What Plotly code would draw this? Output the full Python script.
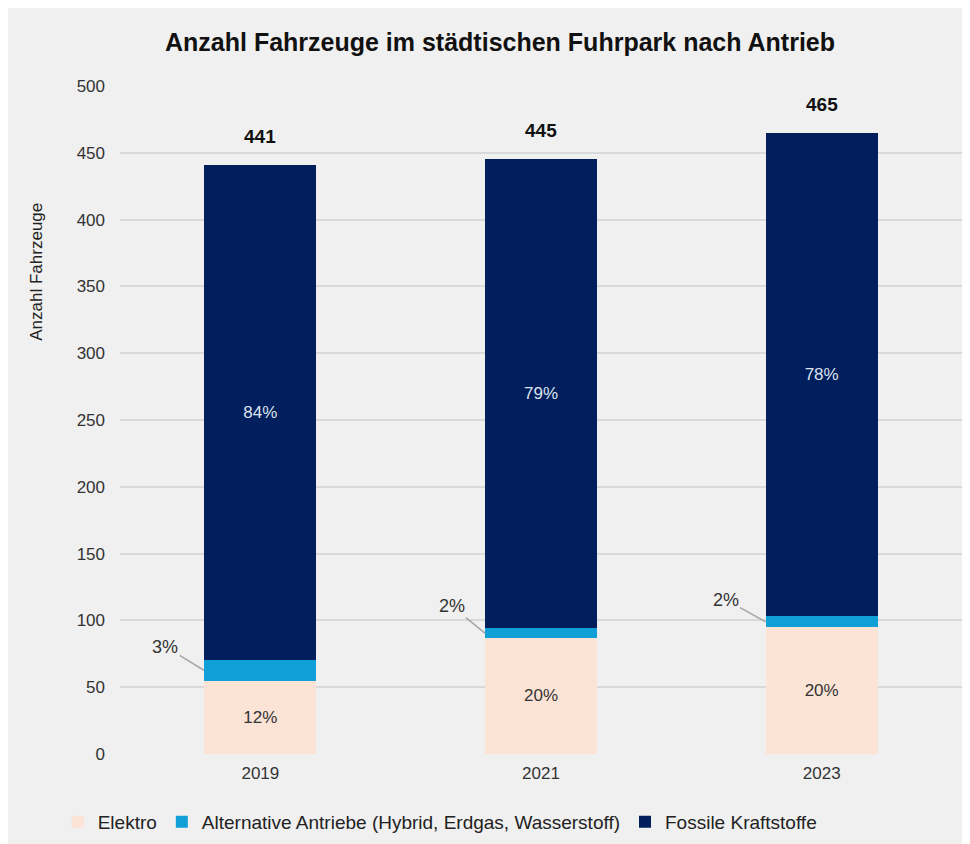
import plotly.graph_objects as go

years = ["2019", "2021", "2023"]
elektro = [55, 87, 95]
alternativ = [15, 7, 8]
fossil = [371, 351, 362]
series_names = ["Elektro", "Alternative Antriebe (Hybrid, Erdgas, Wasserstoff)", "Fossile Kraftstoffe"]
y_ticks = [0, 50, 100, 150, 200, 250, 300, 350, 400, 450, 500]

colors = ["#fbe3d6", "#119fd7", "#001f5c"]
FONT = "Liberation Sans, Arial, sans-serif"
BAR_W = 0.4

xpos = list(range(len(years)))
totals = [e + a + f for e, a, f in zip(elektro, alternativ, fossil)]

def pct(vals):
    return [f"{round(v / t * 100)}%" for v, t in zip(vals, totals)]

fig = go.Figure()
fig.add_trace(go.Bar(
    x=xpos, y=elektro, name=series_names[0], marker_color=colors[0], width=BAR_W,
    text=pct(elektro), textposition="inside", insidetextanchor="middle",
    textfont=dict(color="#333333", size=17, family=FONT), marker_line_width=0,
))
fig.add_trace(go.Bar(
    x=xpos, y=alternativ, name=series_names[1], marker_color=colors[1], width=BAR_W,
    marker_line_width=0,
))
fig.add_trace(go.Bar(
    x=xpos, y=fossil, name=series_names[2], marker_color=colors[2], width=BAR_W,
    text=pct(fossil), textposition="inside", insidetextanchor="middle",
    textfont=dict(color="#dde3ee", size=17, family=FONT), marker_line_width=0,
))

annotations = []
# totals
for x, t in zip(xpos, totals):
    annotations.append(dict(x=x, y=t, text=f"<b>{t}</b>", showarrow=False,
                            yanchor="bottom", yshift=16,
                            font=dict(size=19, color="#111111", family=FONT)))
# small segment labels with leader lines
offsets = [(-39, -24), (-33, -27), (-40, -22)]
for x, e, a, (ax, ay), lab in zip(xpos, elektro, alternativ, offsets, pct(alternativ)):
    annotations.append(dict(x=x - BAR_W / 2, y=e + a / 2, text=lab, showarrow=True,
                            arrowhead=0, arrowwidth=1.5, arrowcolor="#a6a6a6",
                            ax=ax, ay=ay, standoff=0,
                            font=dict(size=18, color="#333333", family=FONT)))
# y axis title
annotations.append(dict(xref="paper", yref="paper", x=(29 - 112) / 842, y=(747 - 264) / 669,
                        xanchor="center", yanchor="middle",
                        text="Anzahl Fahrzeuge", textangle=-90, showarrow=False,
                        font=dict(size=17, color="#222222", family=FONT)))

fig.update_layout(
    barmode="stack",
    width=970, height=844,
    margin=dict(l=112, r=16, t=78, b=97),
    paper_bgcolor="#f0f0f0",
    plot_bgcolor="#f0f0f0",
    title=dict(text="<b>Anzahl Fahrzeuge im städtischen Fuhrpark nach Antrieb</b>",
               x=492 / 970, xanchor="center", y=1 - 34 / 844, yanchor="middle",
               font=dict(size=25, color="#111111", family=FONT)),
    font=dict(family=FONT, color="#333333", size=17),
    xaxis=dict(range=[-0.5, 2.5], tickvals=xpos, ticktext=years, showgrid=False,
               zeroline=False, showline=False, ticks="", ticklabelstandoff=7,
               tickfont=dict(size=17, color="#333333")),
    yaxis=dict(range=[0, 500], tickvals=y_ticks, showgrid=True, gridcolor="#d9d9d9",
               gridwidth=1.5, zeroline=False, showline=False, ticks="",
               ticklabelstandoff=14,
               tickfont=dict(size=17, color="#333333")),
    legend=dict(orientation="h", x=-0.074, y=-0.1, xanchor="left", yanchor="middle",
                bgcolor="rgba(0,0,0,0)", font=dict(size=19, color="#222222", family=FONT),
                itemwidth=30, traceorder="normal"),
    annotations=annotations,
    showlegend=True,
)

fig.write_html("out.html")
